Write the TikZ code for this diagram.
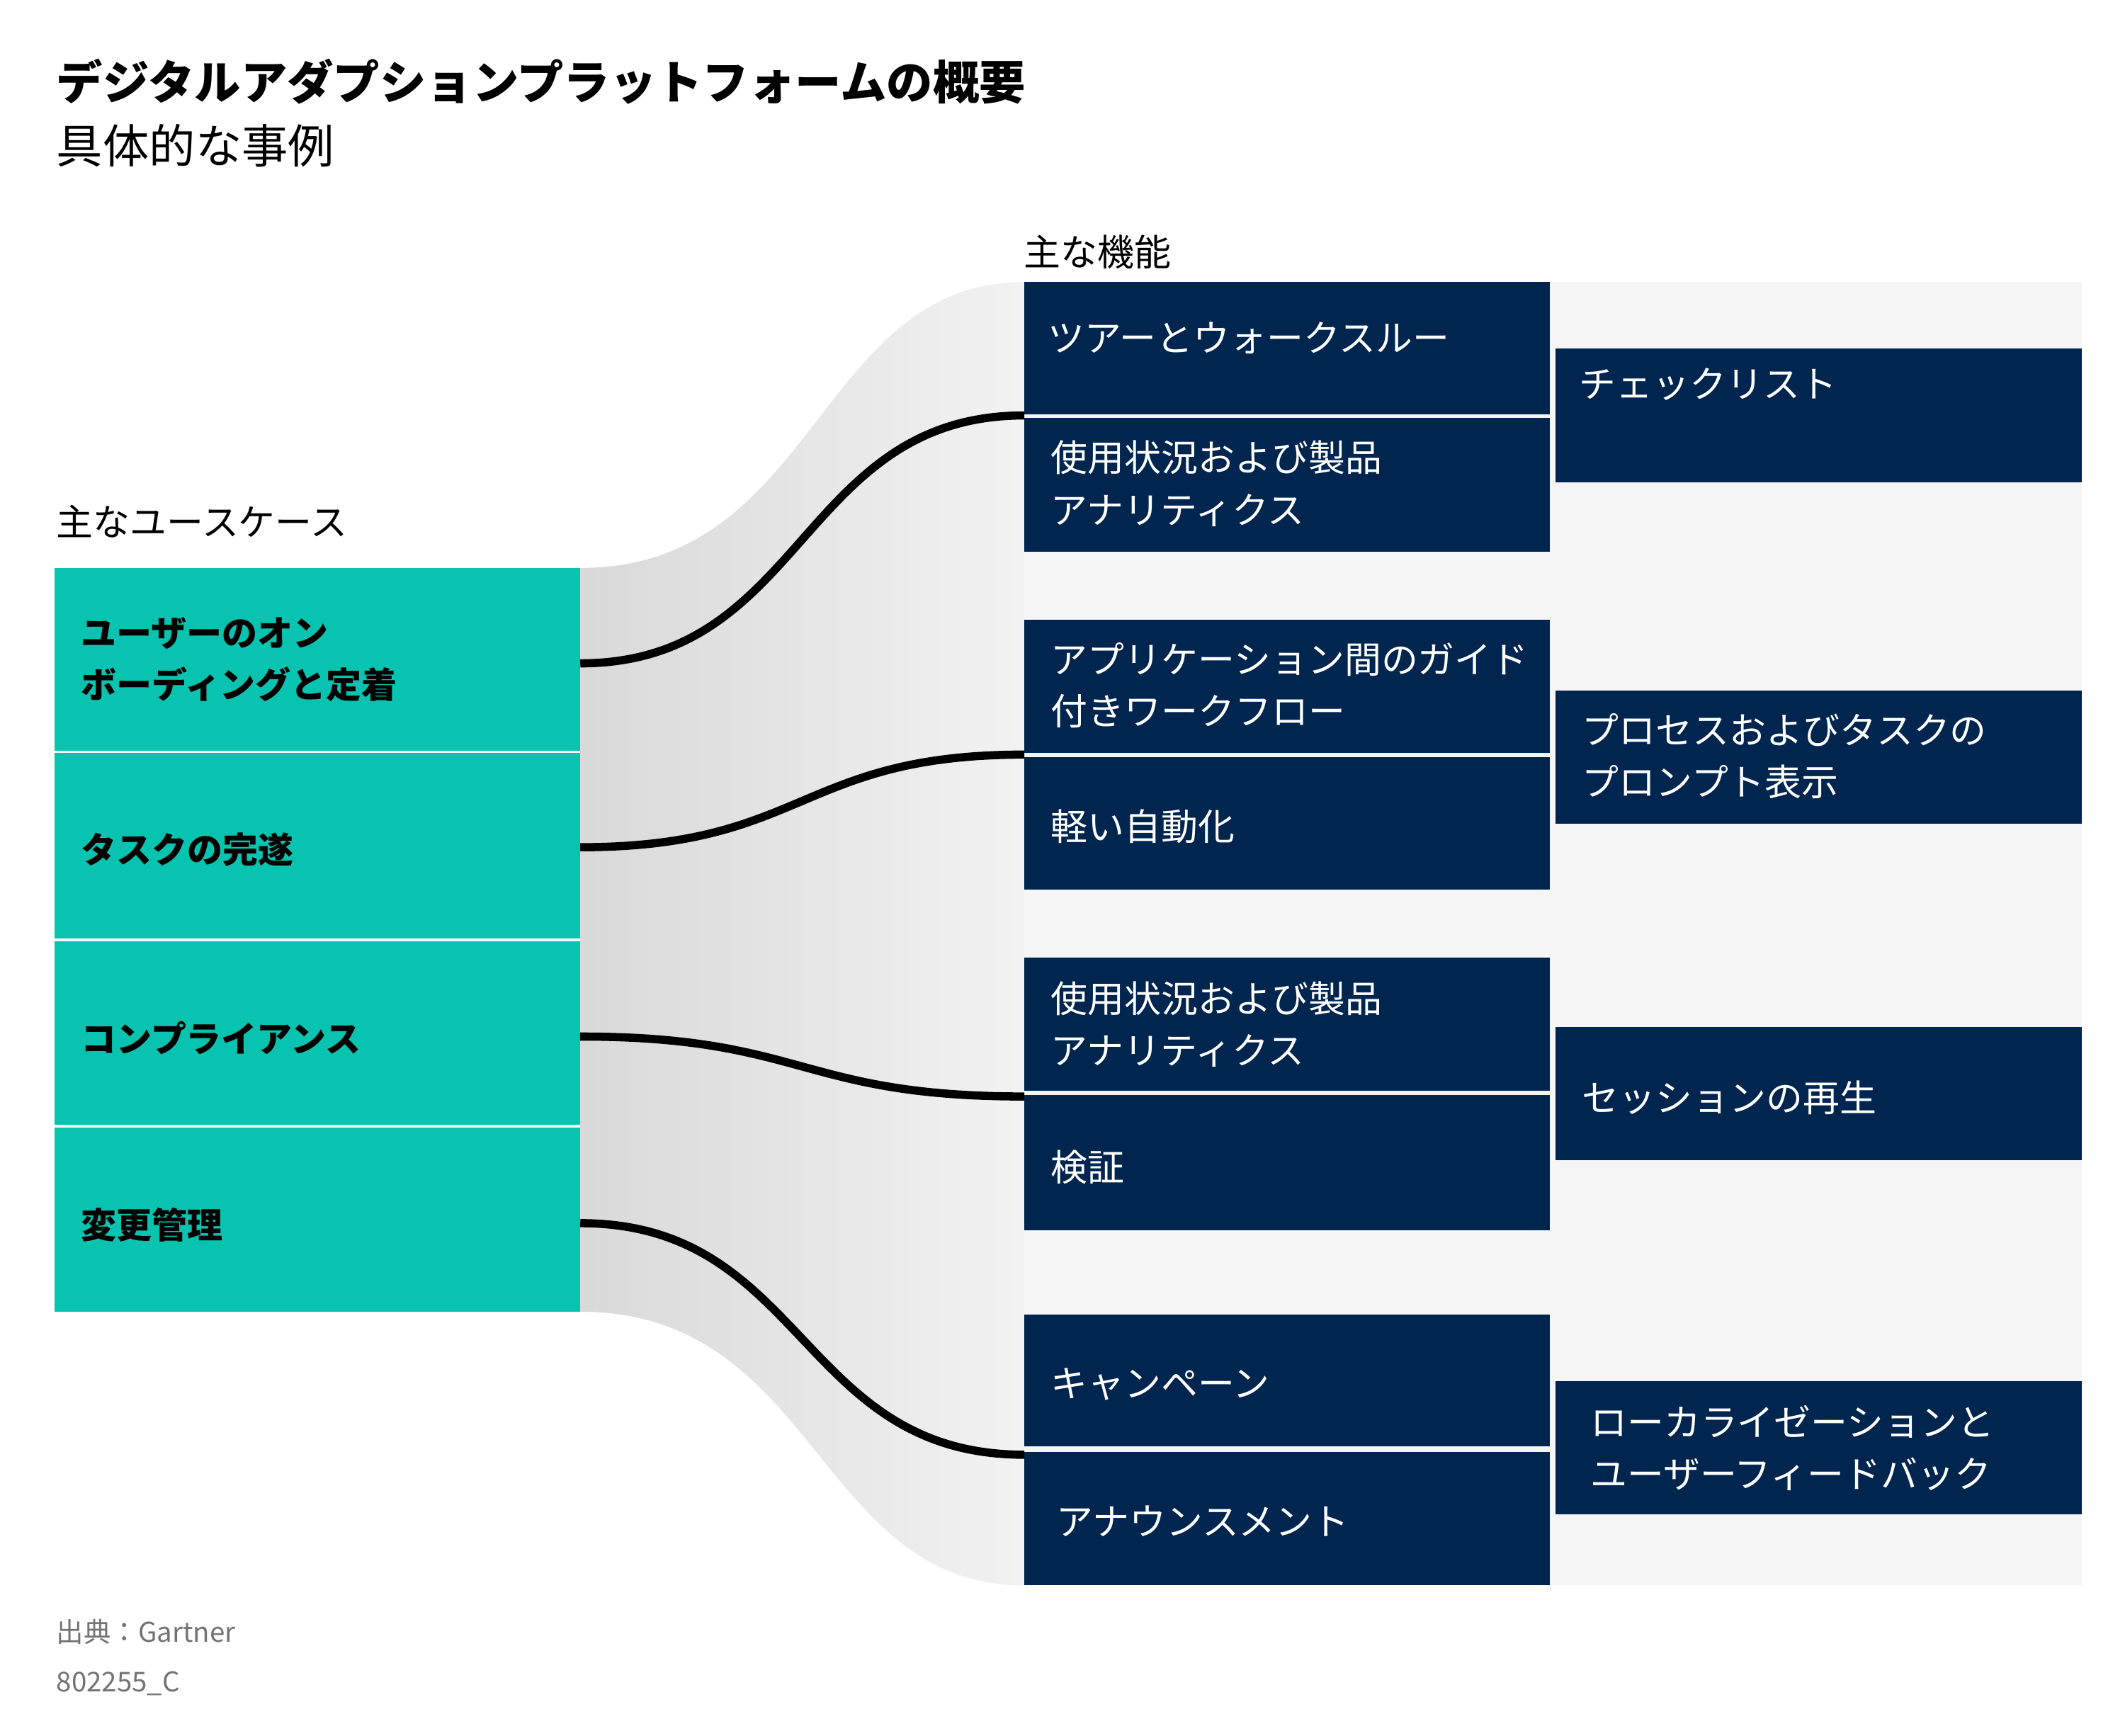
\documentclass[tikz,border=0pt]{standalone}
\usepackage{fontspec}
\usetikzlibrary{calc}
\setmainfont{Noto Sans CJK JP}
\begin{document}
\begin{tikzpicture}[x=1pt,y=-1pt,
  ttxt/.style={anchor=west,align=left,font=\bfseries\fontsize{26}{38}\selectfont,text=black},
  ntxt/.style={anchor=west,align=left,font=\fontsize{27}{38}\selectfont,text=white},
  conn/.style={line width=6pt,black}]
\definecolor{tealc}{HTML}{07C3B0}
\definecolor{navyc}{HTML}{002650}
\definecolor{bgc}{HTML}{F5F5F5}
\useasboundingbox (0,0) rectangle (1560,1274);
\fill[white] (0,0) rectangle (1560,1274);
% titles
\node[anchor=west,font=\bfseries\fontsize{34}{40}\selectfont] (t1) at (38,60) {デジタルアダプションプラットフォームの概要};
\node[anchor=west,font=\fontsize{34}{40}\selectfont] (t2) at (38,107) {具体的な事例};
\node[anchor=west,font=\fontsize{27}{32}\selectfont] (h1) at (748,185) {主な機能};
\node[anchor=west,font=\fontsize{27}{32}\selectfont] (h2) at (38,383) {主なユースケース};
% background
\fill[bgc] (752,207) rectangle (1528,1164);
\shade[left color=black!15,right color=black!5] (426,417) .. controls (600,417) and (600,207) .. (752,207) -- (752,1164) .. controls (600,1164) and (600,963) .. (426,963) -- cycle;
% teal
\foreach \a/\b in {417/551,553/689,691/826,828/963}{
  \fill[tealc] (40,\a) rectangle (426,\b);}
\node[ttxt] (ut1) at (56,484) {ユーザーのオン\\ボーディングと定着};
\node[ttxt] (ut2) at (56,624) {タスクの完遂};
\node[ttxt] (ut3) at (56,762) {コンプライアンス};
\node[ttxt] (ut4) at (56,899) {変更管理};
% navy
\foreach \a/\b in {207/304,307/405,455/553,556/653,703/801,804/903,965/1062,1066/1164}{
  \fill[navyc] (752,\a) rectangle (1138,\b);}
\foreach \a/\b in {256/354,507/605,754/852,1014/1112}{
  \fill[navyc] (1142,\a) rectangle (1528,\b);}
\node[ntxt] (m1) at (766,248) {ツアーとウォークスルー};
\node[ntxt] (m2) at (768,355) {使用状況および製品\\アナリティクス};
\node[ntxt] (m3) at (768,503) {アプリケーション間のガイド\\付きワークフロー};
\node[ntxt] (m4) at (768,607) {軽い自動化};
\node[ntxt] (m5) at (768,752) {使用状況および製品\\アナリティクス};
\node[ntxt] (m6) at (768,857) {検証};
\node[ntxt] (m7) at (768,1016) {キャンペーン};
\node[ntxt] (m8) at (772,1117) {アナウンスメント};
\node[ntxt] (r1) at (1156,282) {チェックリスト};
\node[ntxt] (r2) at (1158,555) {プロセスおよびタスクの\\プロンプト表示};
\node[ntxt] (r3) at (1158,806) {セッションの再生};
\node[ntxt] (r4) at (1164,1063) {ローカライゼーションと\\ユーザーフィードバック};
% connectors
\coordinate (a1) at (426,487); \coordinate (b1) at (752,305);
\coordinate (a2) at (426,622); \coordinate (b2) at (752,554);
\coordinate (a3) at (426,761); \coordinate (b3) at (752,805);
\coordinate (a4) at (426,898); \coordinate (b4) at (752,1068);
\foreach \i in {1,2,3,4}{
  \draw[conn] (a\i) .. controls ($(a\i)+(165,0)$) and ($(b\i)-(165,0)$) .. (b\i);}
% footer
\node[anchor=west,text=black!55,font=\fontsize{20}{24}\selectfont] (f1) at (38,1198) {出典：Gartner};
\node[anchor=west,text=black!55,font=\fontsize{20}{24}\selectfont] (f2) at (38,1236) {802255\_C};
\end{tikzpicture}
\end{document}
